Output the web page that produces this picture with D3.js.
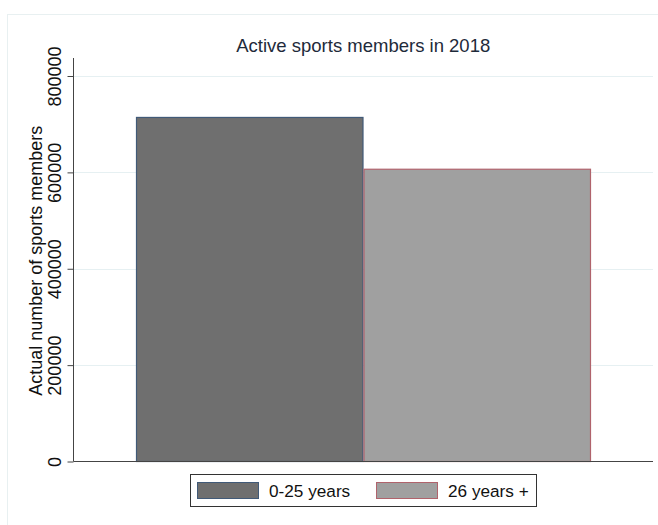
<!DOCTYPE html>
<html>
<head>
<meta charset="utf-8">
<script src="https://cdn.jsdelivr.net/npm/d3@7"></script>
<style>
  body { margin: 0; background: #fff; }
  svg { display: block; font-family: "Liberation Sans", Arial, sans-serif; }
</style>
</head>
<body>
<svg id="chart" width="658" height="525"></svg>
<script>
const categories = ["0-25 years", "26 years +"];
const values = [714000, 606500];
const yTicks = [0, 200000, 400000, 600000, 800000];
const title = "Active sports members in 2018";
const yTitle = "Actual number of sports members";

const fills = ["#6f6f6f", "#a0a0a0"];
const strokes = ["#415a78", "#b0636c"];

const svg = d3.select("#chart");
const W = 658, H = 525;

// outer frame
svg.append("rect")
    .attr("x", 7.5).attr("y", 14.5)
    .attr("width", W).attr("height", H)
    .style("fill", "#fff")
    .style("stroke", "#e8f0f1");

// plot region
const m = {left: 73.5, right: 653, top: 58, bottom: 461.5};

const y = d3.scaleLinear()
    .domain([0, 800000])
    .range([m.bottom, 76]);

const x = d3.scaleBand()
    .domain(categories)
    .range([136, 591])
    .padding(0);

// gridlines
svg.append("g").selectAll("line")
    .data(yTicks.slice(1)).enter()
    .append("line")
    .attr("x1", m.left).attr("x2", m.right)
    .attr("y1", d => Math.round(y(d)) + 0.5)
    .attr("y2", d => Math.round(y(d)) + 0.5)
    .style("stroke", "#e6f0f2")
    .style("stroke-width", 1.2);

// bars
svg.append("g").selectAll("rect")
    .data(values).enter()
    .append("rect")
    .attr("x", (d, i) => x(categories[i]) + 0.5)
    .attr("y", d => y(d))
    .attr("width", x.bandwidth() - 1)
    .attr("height", d => m.bottom - y(d))
    .style("fill", (d, i) => fills[i])
    .style("stroke", (d, i) => strokes[i])
    .style("stroke-width", 1.2);

// axis y
const axisY = d3.axisLeft(y).tickValues(yTicks).tickSize(6).tickSizeOuter(0).tickFormat(d3.format("d"));
const gY = svg.append("g")
    .attr("transform", `translate(${m.left},0)`)
    .call(axisY);
gY.select(".domain").remove();
gY.selectAll(".tick line").style("stroke", "#444");
gY.selectAll(".tick text")
    .attr("transform", "rotate(-90)")
    .attr("x", 0)
    .attr("y", -13)
    .attr("dy", 0)
    .style("text-anchor", "middle")
    .style("font-size", "18px")
    .style("fill", "#111")
    .style("font-family", "'Liberation Sans', Arial, sans-serif");

svg.append("line")
    .attr("x1", m.left).attr("x2", m.left)
    .attr("y1", m.top).attr("y2", m.bottom)
    .style("stroke", "#444");

// axis x line
svg.append("line")
    .attr("x1", m.left).attr("x2", m.right)
    .attr("y1", m.bottom).attr("y2", m.bottom)
    .style("stroke", "#444");

// y title
svg.append("text")
    .attr("transform", `translate(42,${(76 + m.bottom) / 2 - 8}) rotate(-90)`)
    .style("text-anchor", "middle")
    .style("font-size", "18px")
    .style("fill", "#111")
    .text(yTitle);

// title
svg.append("text")
    .attr("x", (m.left + m.right) / 2)
    .attr("y", 52)
    .style("text-anchor", "middle")
    .style("font-size", "18.5px")
    .style("fill", "#1e2a3a")
    .text(title);

// legend
const legend = svg.append("g");
legend.append("rect")
    .attr("x", 190.5).attr("y", 474.5)
    .attr("width", 346).attr("height", 32)
    .style("fill", "#fff")
    .style("stroke", "#333");

const legendX = [197, 376];
const item = legend.selectAll("g.item")
    .data(categories).enter()
    .append("g")
    .attr("class", "item")
    .attr("transform", (d, i) => `translate(${legendX[i]},0)`);
item.append("rect")
    .attr("x", 0.5).attr("y", 482.5)
    .attr("width", 61).attr("height", 16)
    .style("fill", (d, i) => fills[i])
    .style("stroke", (d, i) => strokes[i]);
item.append("text")
    .attr("x", 72).attr("y", 497)
    .style("font-size", "17.2px")
    .style("fill", "#111")
    .text(d => d);
</script>
</body>
</html>
